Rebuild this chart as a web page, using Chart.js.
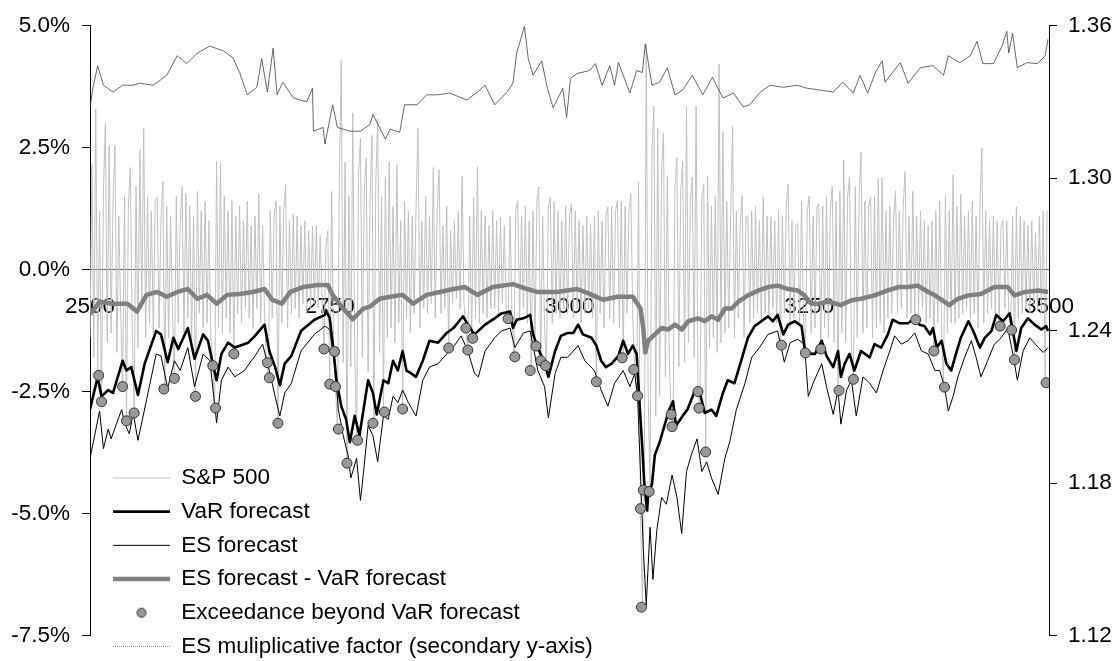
<!DOCTYPE html>
<html>
<head>
<meta charset="utf-8">
<script src="https://cdn.jsdelivr.net/npm/chart.js@4.4.1/dist/chart.umd.min.js"></script>
<style>
  html, body { margin: 0; padding: 0; background: #fff; }
  #cadre { width: 1120px; height: 661px; }
</style>
</head>
<body>
<div id="cadre"><canvas id="graphe"></canvas></div>
<script>
// graduations des axes
var xTicks = [2500, 2750, 3000, 3250, 3500];
var leftTicks = [-7.5, -5, -2.5, 0, 2.5, 5];
var rightTicks = [1.12, 1.18, 1.24, 1.30, 1.36];

// rendements S&P 500 (%), un point tous les 2 jours depuis 2500
var retValues = [
  -1.4, 2.15, -1.8, 3.29, -2.17, 1.2, -2.71, 1.6, 2.99, -1.5,
  2.55, -1.3, 1.4, 2.55, -1.7, 1.1, -0.9, -2.40, 1.5, -3.10,
  1.3, 2.09, -1.2, -2.94, 1.7, -1.6, 2.45, -0.8, 2.89, -1.4,
  1.5, -1.1, 1.2, -1.3, 1.4, 1.48, -1.2, 1.0, 1.81, -2.45,
  1.3, -1.4, 1.1, -0.9, -2.23, 1.5, -1.1, 0.9, 1.71, -1.3,
  1.55, -1.0, 1.3, -1.5, 1.1, -2.60, 1.6, -0.9, 1.2, -1.2,
  1.4, -1.1, 1.0, -1.4, -1.97, -2.84, 2.21, -1.2, 2.19, -1.3,
  1.5, -1.0, 1.2, -1.3, 1.41, -1.73, 1.1, -0.9, 1.3, -1.1,
  1.0, -0.8, 1.4, -1.0, 0.9, -1.2, 1.1, -0.8, 1.55, -1.1,
  0.9, -0.9, -1.91, -2.22, 1.2, -1.0, 1.1, 1.41, -3.15, 1.3,
  -1.1, 1.2, 1.75, -1.2, 1.0, -0.9, 1.14, -0.8, 1.1, -1.0,
  0.9, -0.7, 1.0, -0.9, 0.8, -0.8, 0.88, -0.7, 0.9, -0.8,
  0.7, -0.6, -1.63, 0.5, 0.80, -2.35, 1.6, -1.68, -2.40, -3.27,
  1.8, 4.29, -1.9, 2.2, -3.97, 1.5, -2.0, 3.21, -1.6, -3.50,
  1.9, 2.69, -1.8, 1.6, 2.29, -2.1, 1.4, 2.75, -3.15, 1.8,
  3.09, -1.7, 1.5, -2.92, 1.9, -1.4, 2.21, -1.2, 1.3, -1.5,
  2.15, -1.1, 1.0, -2.86, 1.4, -1.0, 1.20, -1.3, 1.1, -0.9,
  1.3, 2.89, -1.2, 1.0, -0.8, 1.5, -0.9, 1.1, -0.7, 2.09,
  -1.0, 1.2, 2.05, -0.9, 0.9, -0.8, 1.3, -1.61, 0.8, -0.7,
  1.0, -0.6, 1.2, -0.8, 1.91, -0.7, -1.20, -1.65, 1.1, -1.41,
  1.48, -1.0, 2.11, -1.1, 1.2, -0.9, 1.1, -1.0, 0.9, -0.8,
  1.2, -0.8, 1.0, -0.9, 1.08, -0.7, 0.9, -0.8, -1.01, 1.1,
  -0.9, -1.79, 1.2, 1.41, -1.0, 1.1, -0.8, 1.3, -1.1, 1.0,
  -2.07, 1.2, -1.57, 1.4, 1.69, -1.87, 1.1, -1.2, -1.97, 1.3,
  1.48, -1.1, 1.4, -0.9, 1.2, -1.0, 1.0, -0.8, 1.3, -0.9,
  1.1, 1.34, -1.0, 1.2, -0.8, 1.0, -1.1, 0.9, -0.9, 1.1,
  -0.8, 0.94, -1.0, 1.1, -2.30, 1.2, -0.9, 1.0, -1.2, 1.1,
  1.28, -1.0, 1.3, -1.1, 1.2, 1.41, -1.2, 1.4, -1.81, 1.3,
  -0.9, 1.2, 1.55, -1.0, -2.05, -2.59, 1.8, -4.90, -6.92, -4.52,
  4.61, -2.5, -4.55, 2.4, 3.35, -3.0, 2.89, -2.6, 2.0, 2.79,
  -2.2, 1.9, -1.8, -2.97, -3.22, 1.7, 2.29, -2.0, 1.6, 2.21,
  -1.9, 3.35, -1.5, 1.4, 1.89, -1.8, 3.35, -2.50, -2.84, 1.5,
  1.75, -3.74, 1.91, -1.6, 1.3, -1.4, 1.5, -1.7, 4.21, -1.5,
  2.81, -1.3, 1.4, -1.2, 1.1, 2.95, -1.4, 1.2, -1.0, 0.9,
  1.51, -1.4, 1.1, 1.08, -1.1, 1.2, -1.0, 1.3, -0.9, 1.0,
  -1.1, 1.48, -0.9, 1.1, -1.0, 1.08, -0.8, 1.0, -1.1, 1.2,
  -1.55, 1.1, -0.9, 1.3, 1.75, -1.2, 1.0, -1.0, 0.9, 0.94,
  -1.1, 1.4, -1.0, -1.71, 1.2, 1.51, -1.3, 1.1, -1.2, 1.3,
  1.34, -1.63, 1.3, -1.2, 1.5, -1.4, 1.2, 1.71, -1.5, 1.4,
  -2.48, 1.6, -1.3, 2.25, -1.5, 1.5, 1.89, -1.6, -2.25, 1.7,
  -1.4, 1.5, 2.41, -1.3, 1.4, -1.2, 1.3, 1.48, -1.4, 1.5,
  -1.2, 1.85, -1.1, 1.89, -1.3, 1.2, -1.0, 1.3, -0.9, 1.1,
  1.61, -0.9, 1.2, -0.8, 1.3, 2.01, -1.0, 1.1, -0.9, 1.61,
  -1.03, 1.1, -0.9, 1.2, -0.8, 1.0, -1.1, 0.9, -1.0, 1.00,
  -1.67, 1.2, -1.1, 1.4, -1.2, -2.41, 1.5, -1.3, 1.2, -1.1,
  1.95, -1.1, 1.3, -1.0, 1.55, -0.9, 1.1, -0.8, 1.2, -1.0,
  1.4, -0.9, 1.1, -1.2, 1.3, 2.49, -1.1, 1.2, -0.9, 1.0,
  -0.8, 1.1, -0.9, 1.0, -1.16, 0.9, 1.00, -0.8, 1.0, -0.9,
  -1.24, 1.1, -1.85, 1.28, -1.0, 1.1, -0.9, 1.0, -0.8, 0.9,
  -0.9, 1.0, -0.7, 0.74, -0.8, 1.1, -0.9, 1.20, -2.32, 1.2
];
var retDays = retValues.map(function (v, i) { return 2500 + 2 * i; });

// prevision VaR (%)
var varDays = [2500, 2508, 2512, 2519, 2524, 2534, 2538, 2543, 2550, 2557, 2569, 2574, 2581, 2587, 2592, 2602, 2609, 2618, 2623, 2628,
  2632, 2637, 2644, 2651, 2665, 2672, 2682, 2687, 2693, 2698, 2703, 2710, 2720, 2734, 2745, 2746, 2750, 2753, 2757, 2762,
  2767, 2771, 2776, 2781, 2790, 2795, 2799, 2806, 2811, 2816, 2821, 2826, 2830, 2835, 2840, 2847, 2854, 2863, 2872, 2879,
  2886, 2889, 2894, 2901, 2912, 2922, 2929, 2938, 2941, 2945, 2952, 2959, 2962, 2967, 2974, 2978, 2985, 2991, 2998, 3004,
  3009, 3014, 3023, 3028, 3033, 3038, 3044, 3051, 3056, 3061, 3066, 3070, 3073, 3076, 3078, 3081, 3082, 3086, 3089, 3094,
  3099, 3104, 3108, 3111, 3118, 3123, 3131, 3136, 3141, 3148, 3153, 3160, 3165, 3172, 3179, 3186, 3193, 3200, 3207, 3212,
  3217, 3223, 3228, 3235, 3242, 3245, 3252, 3256, 3263, 3268, 3275, 3280, 3283, 3287, 3292, 3297, 3304, 3313, 3318, 3325,
  3332, 3337, 3344, 3353, 3360, 3365, 3370, 3376, 3379, 3383, 3388, 3393, 3398, 3403, 3408, 3416, 3421, 3428, 3433, 3440,
  3445, 3452, 3459, 3466, 3471, 3478, 3485, 3492, 3497, 3499];
var varValues = [-2.87, -2.20, -2.60, -2.47, -2.53, -1.87, -2.07, -2.00, -2.57, -1.93, -1.26, -1.33, -1.90, -1.40, -1.63, -1.20, -1.83, -1.33, -1.46, -1.93,
  -2.27, -1.73, -1.50, -1.60, -1.50, -1.36, -1.13, -1.67, -2.00, -2.37, -1.93, -1.77, -1.26, -1.03, -0.93, -0.83, -1.00, -1.50, -2.27, -2.80,
  -3.07, -3.54, -3.00, -3.40, -2.27, -2.53, -2.97, -2.27, -2.33, -1.87, -2.07, -1.67, -2.07, -2.13, -2.20, -1.87, -1.46, -1.50, -1.30, -1.20,
  -1.03, -0.96, -1.13, -1.33, -1.13, -1.00, -0.90, -0.86, -1.20, -1.03, -1.00, -0.93, -1.33, -1.60, -1.93, -2.20, -1.67, -1.36, -1.30, -1.30,
  -1.13, -1.33, -1.40, -1.56, -1.87, -2.00, -1.93, -1.77, -1.46, -1.73, -1.56, -1.73, -2.73, -3.67, -4.40, -4.94, -4.60, -4.40, -3.80, -3.54,
  -3.20, -2.87, -2.70, -3.20, -3.00, -2.87, -2.47, -2.53, -2.94, -2.87, -3.00, -2.53, -2.27, -2.33, -1.87, -1.40, -1.16, -1.06, -0.96, -1.06,
  -0.93, -1.33, -1.13, -1.06, -1.16, -1.60, -1.73, -1.73, -1.46, -1.77, -2.00, -1.67, -2.20, -1.93, -1.73, -2.07, -1.67, -1.80, -1.53, -1.60,
  -1.33, -1.03, -1.10, -1.10, -1.00, -1.13, -1.16, -1.33, -1.20, -1.60, -1.46, -1.93, -2.07, -1.73, -1.40, -1.06, -1.26, -1.60, -1.40, -1.26,
  -0.93, -1.06, -0.90, -1.67, -1.20, -1.00, -1.13, -1.23, -1.16, -1.26];

// prevision ES (%)
var esDays = [2500, 2510, 2514, 2519, 2522, 2533, 2536, 2541, 2545, 2550, 2559, 2569, 2574, 2581, 2588, 2594, 2602, 2609, 2618, 2625,
  2632, 2637, 2644, 2651, 2661, 2672, 2680, 2687, 2693, 2698, 2703, 2710, 2720, 2734, 2745, 2750, 2755, 2759, 2764, 2769,
  2772, 2778, 2782, 2785, 2790, 2795, 2800, 2806, 2811, 2816, 2821, 2826, 2832, 2840, 2847, 2854, 2863, 2872, 2880, 2887,
  2894, 2901, 2905, 2912, 2922, 2929, 2938, 2943, 2952, 2959, 2967, 2974, 2978, 2985, 2991, 2998, 3009, 3016, 3026, 3033,
  3040, 3047, 3056, 3063, 3068, 3071, 3077, 3080, 3084, 3087, 3091, 3096, 3101, 3107, 3112, 3117, 3122, 3127, 3133, 3138,
  3143, 3148, 3155, 3162, 3167, 3174, 3183, 3190, 3198, 3207, 3217, 3224, 3230, 3238, 3245, 3249, 3254, 3263, 3268, 3275,
  3280, 3283, 3289, 3294, 3299, 3306, 3313, 3320, 3327, 3334, 3339, 3346, 3353, 3360, 3367, 3374, 3381, 3386, 3391, 3395,
  3400, 3405, 3412, 3419, 3424, 3429, 3436, 3443, 3450, 3457, 3463, 3467, 3473, 3480, 3489, 3494, 3499];
var esValues = [-3.87, -2.90, -3.67, -3.27, -3.47, -2.87, -3.14, -3.37, -2.94, -3.50, -2.67, -1.73, -1.77, -2.43, -1.87, -2.07, -1.60, -2.40, -1.73, -1.87,
  -3.14, -2.27, -2.00, -2.20, -2.07, -1.77, -1.53, -2.07, -2.60, -3.00, -2.53, -2.33, -1.67, -1.33, -1.16, -1.23, -1.93, -2.87, -3.40, -3.80,
  -4.27, -3.87, -4.73, -4.20, -3.20, -3.40, -3.94, -3.00, -3.07, -2.60, -2.73, -2.47, -2.73, -3.00, -2.27, -2.00, -1.93, -1.73, -1.56, -1.36,
  -1.67, -2.13, -2.20, -1.67, -1.40, -1.26, -1.20, -1.60, -1.30, -1.26, -2.07, -2.40, -3.04, -2.13, -1.80, -1.80, -1.56, -1.87, -2.07, -2.47,
  -2.80, -2.33, -2.07, -2.40, -2.13, -2.60, -5.74, -6.88, -5.28, -6.35, -5.35, -4.67, -4.81, -4.21, -4.67, -5.41, -4.14, -3.80, -3.47, -4.14,
  -3.94, -4.27, -4.61, -3.87, -3.54, -2.87, -2.33, -1.80, -1.60, -1.33, -1.26, -1.90, -1.50, -1.43, -1.53, -2.60, -2.33, -1.93, -2.40, -2.97,
  -2.47, -3.17, -2.47, -2.27, -3.00, -2.20, -2.33, -2.53, -2.07, -1.67, -1.36, -1.53, -1.46, -1.30, -1.67, -1.73, -2.07, -2.07, -2.40, -2.90,
  -2.60, -2.20, -1.80, -1.46, -1.80, -2.20, -1.87, -1.53, -1.40, -1.20, -1.80, -2.27, -1.67, -1.40, -1.60, -1.70, -1.60];

// ES - VaR (%)
var diffDays = [2500, 2510, 2524, 2539, 2549, 2559, 2570, 2580, 2591, 2602, 2612, 2622, 2632, 2643, 2656, 2670, 2682, 2690, 2700, 2709,
  2722, 2737, 2748, 2753, 2764, 2774, 2785, 2792, 2802, 2813, 2826, 2837, 2851, 2865, 2879, 2891, 2904, 2920, 2941, 2956,
  2966, 2987, 3008, 3021, 3035, 3050, 3066, 3074, 3077, 3079, 3082, 3089, 3096, 3103, 3110, 3117, 3124, 3134, 3141, 3148,
  3155, 3162, 3169, 3176, 3186, 3197, 3207, 3217, 3228, 3238, 3245, 3252, 3259, 3270, 3283, 3294, 3304, 3318, 3332, 3343,
  3353, 3363, 3374, 3381, 3391, 3396, 3405, 3416, 3429, 3443, 3457, 3464, 3475, 3489, 3499];
var diffValues = [-0.92, -0.66, -0.70, -0.70, -0.86, -0.52, -0.46, -0.56, -0.46, -0.40, -0.60, -0.52, -0.70, -0.52, -0.50, -0.46, -0.40, -0.62, -0.70, -0.46,
  -0.36, -0.32, -0.32, -0.52, -0.80, -1.02, -0.80, -0.76, -0.60, -0.56, -0.52, -0.70, -0.52, -0.46, -0.40, -0.36, -0.52, -0.36, -0.30, -0.40,
  -0.46, -0.46, -0.40, -0.50, -0.62, -0.56, -0.56, -0.80, -1.22, -1.70, -1.46, -1.33, -1.20, -1.23, -1.13, -1.23, -1.06, -1.00, -1.06, -0.96,
  -1.03, -0.80, -0.80, -0.66, -0.53, -0.43, -0.36, -0.33, -0.40, -0.43, -0.53, -0.70, -0.70, -0.66, -0.73, -0.63, -0.60, -0.53, -0.43, -0.36,
  -0.36, -0.33, -0.46, -0.53, -0.66, -0.73, -0.60, -0.53, -0.50, -0.36, -0.36, -0.53, -0.46, -0.43, -0.46];

// depassements de la VaR (%)
var exDays = [2509, 2512, 2534, 2538, 2546, 2577, 2588, 2610, 2628, 2631, 2650, 2685, 2687, 2696, 2744, 2750, 2755, 2756, 2759, 2768,
  2779, 2795, 2807, 2826, 2874, 2892, 2894, 2899, 2936, 2943, 2959, 2965, 2970, 2975, 3028, 3055, 3067, 3071, 3074, 3075,
  3077, 3083, 3106, 3107, 3134, 3135, 3142, 3221, 3246, 3262, 3281, 3296, 3361, 3380, 3391, 3449, 3461, 3464, 3497];
var exValues = [-2.17, -2.71, -2.40, -3.10, -2.94, -2.45, -2.23, -2.60, -1.97, -2.84, -1.73, -1.91, -2.22, -3.15, -1.63, -2.35, -1.68, -2.40, -3.27, -3.97,
  -3.50, -3.15, -2.92, -2.86, -1.61, -1.20, -1.65, -1.41, -1.01, -1.79, -2.07, -1.57, -1.87, -1.97, -2.30, -1.81, -2.05, -2.59, -4.90, -6.92,
  -4.52, -4.55, -2.97, -3.22, -2.50, -2.84, -3.74, -1.55, -1.71, -1.63, -2.48, -2.25, -1.03, -1.67, -2.41, -1.16, -1.24, -1.85, -2.32];

// facteur multiplicatif ES (axe secondaire)
var factorDays = [2500, 2503, 2508, 2514, 2524, 2534, 2545, 2552, 2566, 2580, 2591, 2601, 2612, 2625, 2639, 2649, 2656, 2664, 2674, 2679,
  2685, 2691, 2695, 2701, 2712, 2726, 2732, 2733, 2743, 2745, 2753, 2758, 2771, 2782, 2792, 2795, 2808, 2813, 2823, 2828,
  2841, 2851, 2862, 2875, 2893, 2904, 2912, 2922, 2935, 2941, 2945, 2953, 2957, 2962, 2971, 2977, 2983, 2993, 2997, 3001,
  3008, 3021, 3027, 3034, 3042, 3047, 3051, 3063, 3070, 3076, 3079, 3086, 3094, 3102, 3110, 3118, 3128, 3139, 3149, 3160,
  3171, 3181, 3188, 3199, 3209, 3223, 3237, 3248, 3261, 3275, 3285, 3296, 3303, 3311, 3319, 3326, 3329, 3345, 3353, 3366,
  3379, 3390, 3395, 3407, 3418, 3425, 3431, 3442, 3451, 3456, 3458, 3462, 3467, 3477, 3488, 3496, 3499];
var factorValues = [1.3276, 1.3353, 1.3442, 1.3365, 1.3338, 1.3365, 1.3365, 1.3373, 1.3365, 1.3404, 1.3481, 1.3450, 1.3492, 1.3519, 1.3500, 1.3473, 1.3415, 1.3327, 1.3357, 1.3469,
  1.3338, 1.3511, 1.3327, 1.3377, 1.3315, 1.3300, 1.3353, 1.3184, 1.3199, 1.3134, 1.3288, 1.3199, 1.3184, 1.3184, 1.3211, 1.3250, 1.3153, 1.3192, 1.3180, 1.3288,
  1.3288, 1.3327, 1.3327, 1.3334, 1.3307, 1.3338, 1.3365, 1.3288, 1.3338, 1.3373, 1.3492, 1.3596, 1.3469, 1.3404, 1.3461, 1.3353, 1.3276, 1.3353, 1.3238, 1.3392,
  1.3411, 1.3423, 1.3450, 1.3365, 1.3442, 1.3365, 1.3454, 1.3334, 1.3423, 1.3415, 1.3527, 1.3365, 1.3377, 1.3434, 1.3327, 1.3346, 1.3404, 1.3327, 1.3396, 1.3315,
  1.3334, 1.3280, 1.3288, 1.3338, 1.3365, 1.3357, 1.3365, 1.3353, 1.3346, 1.3338, 1.3377, 1.3334, 1.3404, 1.3334, 1.3415, 1.3461, 1.3377, 1.3454, 1.3373, 1.3434,
  1.3442, 1.3404, 1.3481, 1.3454, 1.3481, 1.3538, 1.3450, 1.3450, 1.3519, 1.3577, 1.3492, 1.3569, 1.3434, 1.3454, 1.3450, 1.3481, 1.3546];

function points(days, values) {
  var out = [];
  var n = Math.min(days.length, values.length);
  for (var i = 0; i < n; i++) {
    out.push({ x: days[i], y: values[i] });
  }
  return out;
}

function fixTicks(list) {
  return function (scale) {
    scale.ticks = list.map(function (v) { return { value: v }; });
  };
}

// pastille de la legende pour les depassements
var pastille = document.createElement('canvas');
pastille.width = 12;
pastille.height = 12;
var pc = pastille.getContext('2d');
pc.beginPath();
pc.arc(6, 6, 4.5, 0, Math.PI * 2);
pc.fillStyle = '#999999';
pc.fill();
pc.lineWidth = 1;
pc.strokeStyle = '#333333';
pc.stroke();

// on pose la legende sous les courbes, a gauche
var placeLegende = {
  id: 'placeLegende',
  beforeDraw: function (chart) {
    var lg = chart.legend;
    lg.left = 101.8;
    lg.top = 455.5;
    lg.right = 900;
    lg.bottom = 700;
    lg.width = lg.right - lg.left;
    lg.height = lg.bottom - lg.top;
  }
};

Chart.defaults.font.family = "'Liberation Sans', Arial, sans-serif";
Chart.defaults.color = '#000';

var police = { family: "'Liberation Sans', Arial, sans-serif", size: 22.5 };

var ctx = document.getElementById('graphe');
var myChart = new Chart(ctx, {
  type: 'line',
  data: {
    datasets: [{
      label: 'S&P 500',
      data: points(retDays, retValues),
      borderColor: '#c0c0c0',
      backgroundColor: '#c0c0c0',
      borderWidth: 1,
      pointRadius: 0,
      yAxisID: 'y',
      order: 5
    }, {
      label: 'VaR forecast',
      data: points(varDays, varValues),
      borderColor: '#000000',
      backgroundColor: '#000000',
      borderWidth: 2.6,
      borderJoinStyle: 'round',
      pointRadius: 0,
      yAxisID: 'y',
      order: 1
    }, {
      label: 'ES forecast',
      data: points(esDays, esValues),
      borderColor: '#000000',
      backgroundColor: '#000000',
      borderWidth: 1,
      pointRadius: 0,
      yAxisID: 'y',
      order: 2
    }, {
      label: 'ES forecast - VaR forecast',
      data: points(diffDays, diffValues),
      borderColor: '#808080',
      backgroundColor: '#808080',
      borderWidth: 4.5,
      borderJoinStyle: 'round',
      pointRadius: 0,
      yAxisID: 'y',
      order: 3
    }, {
      label: 'Exceedance beyond VaR forecast',
      data: points(exDays, exValues),
      showLine: false,
      borderColor: '#333333',
      backgroundColor: '#999999',
      pointRadius: 5,
      pointBorderWidth: 1,
      pointBorderColor: '#333333',
      pointBackgroundColor: '#999999',
      yAxisID: 'y',
      order: 0
    }, {
      label: 'ES muliplicative factor (secondary y-axis)',
      data: points(factorDays, factorValues),
      borderColor: '#404040',
      backgroundColor: '#404040',
      borderWidth: 0.8,
      pointRadius: 0,
      yAxisID: 'y2',
      order: 4
    }]
  },
  options: {
    responsive: true,
    maintainAspectRatio: false,
    animation: false,
    events: [],
    layout: { padding: { top: 19, bottom: 19, left: 0, right: 0 } },
    plugins: {
      tooltip: { enabled: false },
      legend: {
        position: 'chartArea',
        align: 'start',
        labels: {
          usePointStyle: true,
          pointStyleWidth: 57,
          padding: 11.2,
          color: '#000',
          font: police,
          sort: function (a, b) { return a.datasetIndex - b.datasetIndex; },
          generateLabels: function (chart) {
            var items = Chart.defaults.plugins.legend.labels.generateLabels(chart);
            items.forEach(function (it) {
              var ds = chart.data.datasets[it.datasetIndex];
              if (it.datasetIndex === 4) {
                it.pointStyle = pastille;
              } else {
                it.pointStyle = 'line';
                it.lineWidth = ds.borderWidth;
                it.strokeStyle = ds.borderColor;
                it.lineDash = [];
              }
              if (it.datasetIndex === 5) {
                it.strokeStyle = '#8c8c8c';
                it.lineDash = [1, 1];
                it.lineWidth = 1;
              }
            });
            return items;
          }
        }
      }
    },
    scales: {
      x: {
        type: 'linear',
        position: { y: 0 },
        min: 2500,
        max: 3500,
        z: 1,
        afterBuildTicks: fixTicks(xTicks),
        grid: { display: false, drawTicks: false },
        border: { display: true, color: '#595959', width: 1 },
        ticks: {
          autoSkip: false,
          maxRotation: 0,
          padding: 23.5,
          color: '#000',
          font: police,
          callback: function (v) { return String(v); }
        }
      },
      y: {
        type: 'linear',
        position: 'left',
        min: -7.5,
        max: 5,
        afterBuildTicks: fixTicks(leftTicks),
        afterFit: function (s) { s.width = 90; },
        grid: { drawOnChartArea: false, drawTicks: true, tickLength: 8, color: '#000' },
        border: { display: true, color: '#000', width: 1 },
        ticks: {
          padding: 12,
          color: '#000',
          font: police,
          callback: function (v) { return v.toFixed(1) + '%'; }
        }
      },
      y2: {
        type: 'linear',
        position: 'right',
        min: 1.12,
        max: 1.36,
        afterBuildTicks: fixTicks(rightTicks),
        afterFit: function (s) { s.width = 71; },
        grid: { drawOnChartArea: false, drawTicks: true, tickLength: 8, color: '#000' },
        border: { display: true, color: '#000', width: 1 },
        ticks: {
          padding: 11,
          color: '#000',
          font: police,
          callback: function (v) { return v.toFixed(2); }
        }
      }
    }
  },
  plugins: [placeLegende]
});
</script>
</body>
</html>
